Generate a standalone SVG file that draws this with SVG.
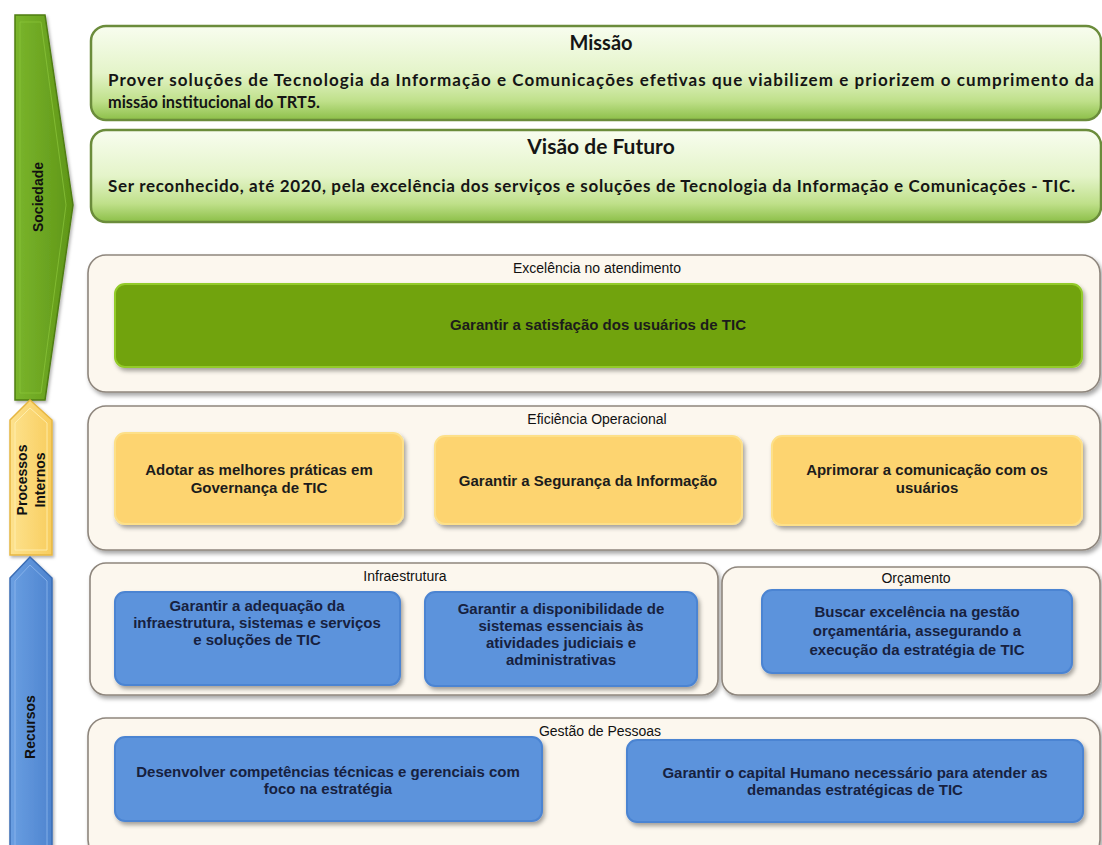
<svg xmlns="http://www.w3.org/2000/svg" width="1102" height="845" viewBox="0 0 1102 845">
<defs>
  <linearGradient id="gPanel" x1="0" y1="0" x2="0" y2="1">
    <stop offset="0" stop-color="#f8fdef"/>
    <stop offset="0.5" stop-color="#e4f4c9"/>
    <stop offset="0.8" stop-color="#bfe08a"/>
    <stop offset="1" stop-color="#8cbf48"/>
  </linearGradient>
  <linearGradient id="gSoc" x1="0" y1="0" x2="1" y2="0">
    <stop offset="0" stop-color="#7ab52c"/>
    <stop offset="1" stop-color="#5f9617"/>
  </linearGradient>
  <linearGradient id="gYel" x1="0" y1="0" x2="1" y2="0">
    <stop offset="0" stop-color="#fde28e"/>
    <stop offset="1" stop-color="#f8cd5e"/>
  </linearGradient>
  <linearGradient id="gBlu" x1="0" y1="0" x2="1" y2="0">
    <stop offset="0" stop-color="#6a9fe2"/>
    <stop offset="1" stop-color="#4e84cf"/>
  </linearGradient>
  <filter id="sh" x="-5%" y="-10%" width="112%" height="130%">
    <feDropShadow dx="2" dy="3" stdDeviation="2" flood-color="#000" flood-opacity="0.35"/>
  </filter>
  <filter id="shs" x="-5%" y="-5%" width="115%" height="115%">
    <feDropShadow dx="1.5" dy="2" stdDeviation="1.5" flood-color="#000" flood-opacity="0.3"/>
  </filter>
</defs>
<style>
  .panel{fill:url(#gPanel);stroke:#6b8c3b;stroke-width:2.5}
  .frame{fill:#fcf7ee;stroke:#8e867d;stroke-width:1.6;filter:url(#sh)}
  .btnG{fill:#71a30b;stroke:#93cb2a;stroke-width:2;filter:url(#sh)}
  .btnY{fill:#fdd46f;stroke:#fde089;stroke-width:2;filter:url(#sh)}
  .btnB{fill:#5b93dc;stroke:#4b84d2;stroke-width:2;filter:url(#sh)}
  .cal{font-family:Lato,"Liberation Sans",sans-serif;font-weight:bold;fill:#151515}
  .ttl{font-family:"Liberation Sans",Arial,sans-serif;font-size:14px;fill:#111;text-anchor:middle}
  .bt{font-family:"Liberation Sans",Arial,sans-serif;font-weight:bold;font-size:15px;fill:#1c1c1c;text-anchor:middle}
  .bb{fill:#17213f}
  .side{font-family:"Liberation Sans",Arial,sans-serif;font-weight:bold;font-size:14px;fill:#111;text-anchor:middle}
</style>

<rect width="1102" height="845" fill="#ffffff"/>

<!-- Side arrows -->
<g id="sociedade">
  <polygon points="15,15 45,15 73,205 45,400 15,400" fill="url(#gSoc)" stroke="#4f7d12" stroke-width="1.5" filter="url(#shs)"/>
  <polygon points="20,22 41,22 66,205 41,393 20,393" fill="none" stroke="#8cc63a" stroke-width="1" opacity="0.7"/>
  <text class="side" transform="translate(43,197) rotate(-90)">Sociedade</text>
</g>
<g id="processos-internos">
  <polygon points="10,420 30,400 52,420 52,555 10,555" fill="url(#gYel)" stroke="#e6b640" stroke-width="1.5" filter="url(#shs)"/>
  <polygon points="15,423 30,408 47,423 47,550 15,550" fill="none" stroke="#fff1b8" stroke-width="1" opacity="0.8"/>
  <text class="side" transform="translate(27,480) rotate(-90)">Processos</text>
  <text class="side" transform="translate(45,480) rotate(-90)">Internos</text>
</g>
<g id="recursos">
  <polygon points="10,578 30,557 52,578 52,850 10,850" fill="url(#gBlu)" stroke="#3a6cb4" stroke-width="1.5" filter="url(#shs)"/>
  <polygon points="15,581 30,565 47,581 47,850 15,850" fill="none" stroke="#8fb8ee" stroke-width="1" opacity="0.8"/>
  <text class="side" transform="translate(35,727) rotate(-90)">Recursos</text>
</g>

<!-- Missão -->
<g id="missao">
  <rect class="panel" x="91" y="26" width="1010" height="94" rx="15"/>
  <text class="cal" x="601" y="50" font-size="20" text-anchor="middle">Missão</text>
  <text class="cal" x="108" y="86" font-size="17" textLength="986" lengthAdjust="spacing">Prover soluções de Tecnologia da Informação e Comunicações efetivas que viabilizem e priorizem o cumprimento da</text>
  <text class="cal" x="108" y="108" font-size="17" textLength="212" lengthAdjust="spacingAndGlyphs">missão institucional do TRT5.</text>
</g>

<!-- Visão -->
<g id="visao">
  <rect class="panel" x="91" y="130" width="1010" height="92" rx="15"/>
  <text class="cal" x="601" y="154" font-size="21" text-anchor="middle">Visão de Futuro</text>
  <text class="cal" x="108" y="192" font-size="17" textLength="967" lengthAdjust="spacing">Ser reconhecido, até 2020, pela excelência dos serviços e soluções de Tecnologia da Informação e Comunicações - TIC.</text>
</g>

<!-- Excelência no atendimento -->
<g id="excelencia">
  <rect class="frame" x="88" y="255" width="1012" height="137" rx="18"/>
  <text class="ttl" x="597" y="273">Excelência no atendimento</text>
</g>
<g id="satisfacao">
  <rect class="btnG" x="115" y="284" width="967" height="83" rx="10"/>
  <text class="bt" x="598" y="330" fill="#1d2a05">Garantir a satisfação dos usuários de TIC</text>
</g>

<!-- Eficiência Operacional -->
<g id="eficiencia">
  <rect class="frame" x="88" y="406" width="1012" height="144" rx="18"/>
  <text class="ttl" x="597" y="424">Eficiência Operacional</text>
</g>
<g id="governanca">
  <rect class="btnY" x="115" y="433" width="288" height="91" rx="10"/>
  <text class="bt" x="259" y="475">Adotar as melhores práticas em</text>
  <text class="bt" x="259" y="493">Governança de TIC</text>
</g>
<g id="seguranca">
  <rect class="btnY" x="435" y="436" width="307" height="88" rx="10"/>
  <text class="bt" x="588" y="486">Garantir a Segurança da Informação</text>
</g>
<g id="comunicacao">
  <rect class="btnY" x="772" y="436" width="310" height="89" rx="10"/>
  <text class="bt" x="927" y="475">Aprimorar a comunicação com os</text>
  <text class="bt" x="927" y="493">usuários</text>
</g>

<!-- Infraestrutura -->
<g id="infraestrutura">
  <rect class="frame" x="90" y="563" width="628" height="132" rx="16"/>
  <text class="ttl" x="405" y="581">Infraestrutura</text>
</g>
<g id="adequacao">
  <rect class="btnB" x="115" y="592" width="285" height="93" rx="10"/>
  <text class="bt bb" x="257" y="611">Garantir a adequação da</text>
  <text class="bt bb" x="257" y="628">infraestrutura, sistemas e serviços</text>
  <text class="bt bb" x="257" y="645">e soluções de TIC</text>
</g>
<g id="disponibilidade">
  <rect class="btnB" x="425" y="592" width="272" height="94" rx="10"/>
  <text class="bt bb" x="561" y="614">Garantir a disponibilidade de</text>
  <text class="bt bb" x="561" y="631">sistemas essenciais às</text>
  <text class="bt bb" x="561" y="648">atividades judiciais e</text>
  <text class="bt bb" x="561" y="665">administrativas</text>
</g>

<!-- Orçamento -->
<g id="orcamento">
  <rect class="frame" x="722" y="567" width="378" height="128" rx="16"/>
  <text class="ttl" x="916" y="583">Orçamento</text>
</g>
<g id="gestao-orcamentaria">
  <rect class="btnB" x="762" y="590" width="310" height="83" rx="10"/>
  <text class="bt bb" x="917" y="617">Buscar excelência na gestão</text>
  <text class="bt bb" x="917" y="636">orçamentária, assegurando a</text>
  <text class="bt bb" x="917" y="655">execução da estratégia de TIC</text>
</g>

<!-- Gestão de Pessoas -->
<g id="gestao-pessoas">
  <rect class="frame" x="88" y="718" width="1012" height="140" rx="18"/>
  <text class="ttl" x="600" y="736">Gestão de Pessoas</text>
</g>
<g id="competencias">
  <rect class="btnB" x="115" y="737" width="427" height="84" rx="10"/>
  <text class="bt bb" x="328" y="777">Desenvolver competências técnicas e gerenciais com</text>
  <text class="bt bb" x="328" y="794">foco na estratégia</text>
</g>
<g id="capital-humano">
  <rect class="btnB" x="627" y="740" width="456" height="82" rx="10"/>
  <text class="bt bb" x="855" y="778">Garantir o capital Humano necessário para atender as</text>
  <text class="bt bb" x="855" y="795">demandas estratégicas de TIC</text>
</g>
</svg>
